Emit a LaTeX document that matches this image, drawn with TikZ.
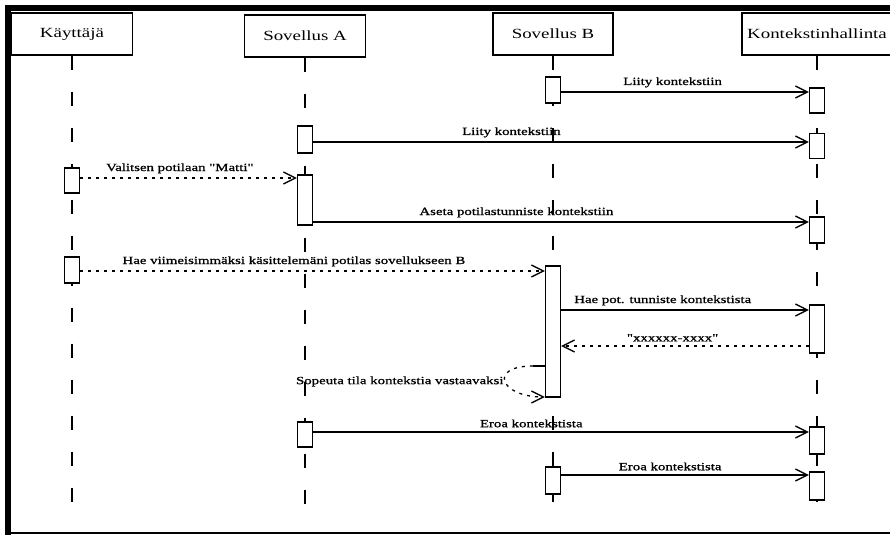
\documentclass[tikz,border=0pt]{standalone}
\usepackage{fontspec}
\newfontfamily\seqfont[FakeStretch=1.35]{Liberation Serif}
\newfontfamily\msgfont[FakeStretch=1.35,FakeBold=1]{Liberation Serif}
\usetikzlibrary{arrows.meta}
\tikzset{
  hdr/.style={draw,line width=1.2pt,minimum height=42pt,inner sep=0pt,font=\seqfont\fontsize{14}{16}\selectfont},
  act/.style={draw,fill=white,line width=1.3pt,minimum width=15pt,inner sep=0pt},
  life/.style={line width=1.3pt,dash pattern=on 14pt off 22pt},
  call/.style={-{Straight Barb[length=12pt,width=12pt]},line width=1.3pt},
  ret/.style={call,dash pattern=on 3pt off 5pt},
  lbl/.style={anchor=south,yshift=3pt,inner sep=1pt,font=\msgfont\fontsize{11}{13}\selectfont},
  slbl/.style={anchor=east,inner sep=1pt,font=\msgfont\fontsize{11}{13}\selectfont}
}
\begin{document}
\begin{tikzpicture}[x=1pt,y=-1pt]
  \useasboundingbox (0,0) rectangle (890,535);
  % frame
  \draw[line width=6pt] (890,8) -- (8,8) -- (8,535);
  \draw[line width=2pt] (8,533) -- (890,533);
  % heads
  \node[hdr,minimum width=121pt] (user) at (72,34) {Käyttäjä};
  \node[hdr,minimum width=121pt] (appa) at (305,36) {Sovellus A};
  \node[hdr,minimum width=120pt] (appb) at (553,34) {Sovellus B};
  \node[hdr,minimum width=150pt] (ctx) at (817,34) {Kontekstinhallinta};
  % lifelines
  \draw[life] (user.south) -- (user.south |- 0,522);
  \draw[life] (appa.south) -- (appa.south |- 0,522);
  \draw[life] (appb.south) -- (appb.south |- 0,522);
  \draw[life] (ctx.south) -- (ctx.south |- 0,522);
  % activations
  \node[act,minimum height=26pt] (b1) at (553,90) {};
  \node[act,minimum height=25pt] (k1) at (817,100.5) {};
  \node[act,minimum height=27pt] (a1) at (305,139.5) {};
  \node[act,minimum height=25pt] (k2) at (817,146) {};
  \node[act,minimum height=25pt] (u1) at (72,180.5) {};
  \node[act,minimum height=50pt] (a2) at (305,200) {};
  \node[act,minimum height=26pt] (k3) at (817,230) {};
  \node[act,minimum height=26pt] (u2) at (72,270) {};
  \node[act,minimum height=131pt] (b2) at (553,331.5) {};
  \node[act,minimum height=48pt] (k4) at (817,329) {};
  \node[act,minimum height=25pt] (a3) at (305,434.5) {};
  \node[act,minimum height=27pt] (k5) at (817,440.5) {};
  \node[act,minimum height=27pt] (b3) at (553,480.5) {};
  \node[act,minimum height=28pt] (k6) at (817,486) {};
  % messages
  \draw[call] (b1.east |- 0,92) -- node[lbl,pos=0.45] {Liity kontekstiin} (k1.west |- 0,92);
  \draw[call] (a1.east |- 0,142) -- node[lbl,pos=0.4] {Liity kontekstiin} (k2.west |- 0,142);
  \draw[ret] (u1.east |- 0,178) -- node[lbl,pos=0.46] {Valitsen potilaan "Matti"} (a2.west |- 0,178);
  \draw[call] (a2.east |- 0,222) -- node[lbl,pos=0.41] {Aseta potilastunniste kontekstiin} (k3.west |- 0,222);
  \draw[ret] (u2.east |- 0,271) -- node[lbl,pos=0.46] {Hae viimeisimmäksi käsittelemäni potilas sovellukseen B} (b2.west |- 0,271);
  \draw[call] (b2.east |- 0,310) -- node[lbl,pos=0.41] {Hae pot. tunniste kontekstista} (k4.west |- 0,310);
  \draw[ret] (k4.west |- 0,346) -- node[lbl,pos=0.55] {"xxxxxx-xxxx"} (b2.east |- 0,346);
  \draw[line width=1.3pt] (b2.west |- 0,366) -- ++(-12,0) coordinate (loop);
  \draw[ret] (loop) .. controls +(-45,0) and +(-45,0) .. node[slbl,pos=0.5] {Sopeuta tila kontekstia vastaavaksi} (b2.west |- 0,397);
  \draw[call] (a3.east |- 0,432) -- node[lbl,pos=0.44] {Eroa kontekstista} (k5.west |- 0,432);
  \draw[call] (b3.east |- 0,475) -- node[lbl,pos=0.44] {Eroa kontekstista} (k6.west |- 0,475);
\end{tikzpicture}
\end{document}
